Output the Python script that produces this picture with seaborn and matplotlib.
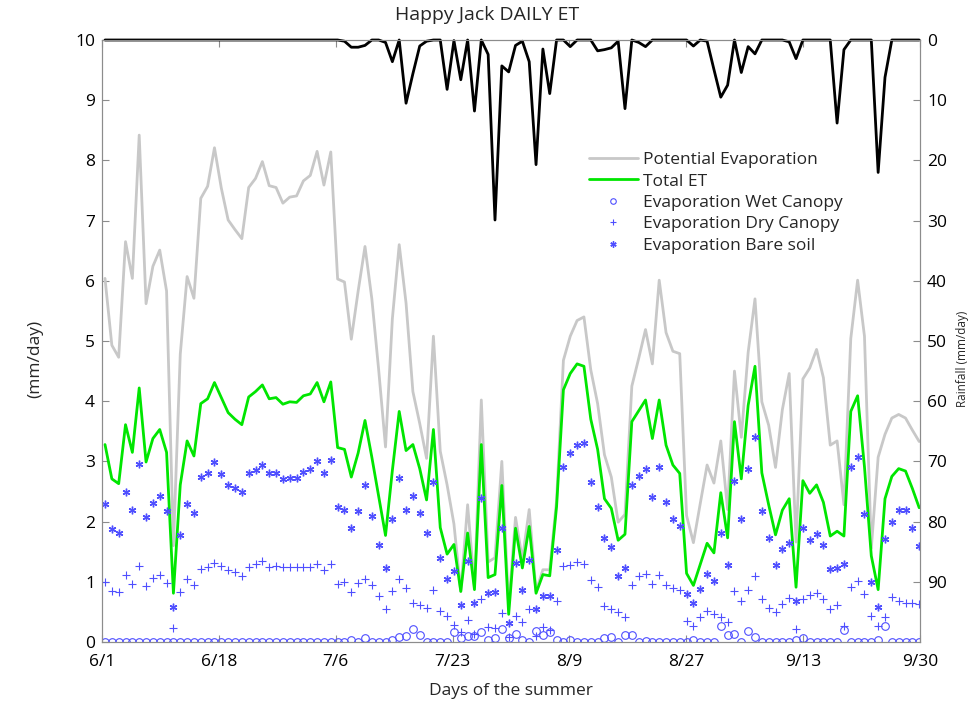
import numpy as np
import pandas as pd
import matplotlib
matplotlib.use("Agg")
import matplotlib.pyplot as plt
from matplotlib.lines import Line2D
import seaborn as sns

# ---------------- data ----------------
tick_labels = ["6/1", "6/18", "7/6", "7/23", "8/9", "8/27", "9/13", "9/30"]

pet = [6.04, 4.93, 4.73, 6.65, 6.04, 8.42, 5.62, 6.24, 6.51, 5.83,
       1.60, 4.78, 6.07, 5.71, 7.37, 7.57, 8.21, 7.54, 7.01, 6.85,
       6.70, 7.55, 7.70, 7.98, 7.58, 7.55, 7.29, 7.39, 7.41, 7.66,
       7.75, 8.15, 7.59, 8.14, 6.03, 5.98, 5.03, 5.83, 6.57, 5.70,
       4.52, 3.24, 5.37, 6.60, 5.63, 4.16, 3.63, 3.05, 5.08, 3.17,
       2.61, 1.96, 0.84, 2.28, 0.91, 4.02, 1.33, 1.40, 3.00, 0.58,
       2.07, 1.37, 2.20, 0.84, 1.20, 1.20, 2.35, 4.68, 5.08, 5.34,
       5.40, 4.52, 3.96, 3.11, 2.74, 1.99, 2.12, 4.25, 4.71, 5.19,
       4.62, 6.01, 5.14, 4.83, 4.79, 2.10, 1.65, 2.30, 2.94, 2.64,
       3.34, 2.20, 4.50, 3.40, 4.81, 5.70, 3.99, 3.60, 2.90, 3.86,
       4.46, 1.66, 4.37, 4.55, 4.86, 4.39, 3.27, 3.34, 2.28, 5.04,
       6.01, 5.08, 1.56, 3.07, 3.45, 3.72, 3.78, 3.72, 3.52, 3.33]

total_et = [3.28, 2.71, 2.63, 3.61, 3.15, 4.22, 2.99, 3.38, 3.53, 3.15,
            0.81, 2.61, 3.34, 3.09, 3.96, 4.04, 4.31, 4.06, 3.81, 3.70,
            3.61, 4.07, 4.16, 4.27, 4.04, 4.06, 3.95, 3.99, 3.98, 4.09,
            4.12, 4.31, 3.99, 4.32, 3.23, 3.20, 2.74, 3.14, 3.68, 3.07,
            2.42, 1.77, 2.85, 3.83, 3.18, 3.28, 2.88, 2.36, 3.53, 1.90,
            1.46, 1.62, 0.84, 1.81, 0.87, 3.28, 1.07, 1.12, 2.60, 0.46,
            1.89, 1.23, 1.92, 0.81, 1.12, 1.10, 2.25, 4.19, 4.46, 4.62,
            4.58, 3.70, 3.20, 2.38, 2.22, 1.69, 1.79, 3.66, 3.84, 4.02,
            3.38, 4.02, 3.27, 2.94, 2.80, 1.14, 0.94, 1.29, 1.64, 1.48,
            2.48, 1.73, 3.66, 2.71, 3.93, 4.58, 2.81, 2.28, 1.78, 2.19,
            2.38, 0.91, 2.68, 2.47, 2.61, 2.32, 1.76, 1.84, 1.76, 3.83,
            4.09, 2.91, 1.43, 0.87, 2.38, 2.75, 2.88, 2.84, 2.55, 2.23]

wet_canopy = [0, 0, 0, 0, 0, 0, 0, 0, 0, 0,
              0, 0, 0, 0, 0, 0, 0, 0, 0, 0,
              0, 0, 0, 0, 0, 0, 0, 0, 0, 0,
              0, 0, 0, 0, 0, 0, 0.04, 0, 0.07, 0,
              0, 0, 0.03, 0.08, 0.10, 0.22, 0.12, 0, 0, 0,
              0, 0.16, 0.07, 0.10, 0.10, 0.16, 0.03, 0.07, 0.22, 0.07,
              0.14, 0.03, 0, 0.18, 0.12, 0.16, 0.04, 0, 0.04, 0,
              0, 0, 0, 0.06, 0.09, 0, 0.12, 0.12, 0, 0.02,
              0, 0, 0, 0, 0, 0, 0.04, 0, 0, 0,
              0.26, 0.12, 0.14, 0, 0.19, 0.08, 0, 0, 0, 0,
              0, 0.03, 0.07, 0, 0, 0, 0, 0, 0.20, 0,
              0, 0, 0, 0.03, 0.26, 0, 0, 0, 0, 0]

dry_canopy = [1.00, 0.85, 0.83, 1.12, 0.96, 1.27, 0.93, 1.07, 1.12, 0.98,
              0.24, 0.83, 1.04, 0.94, 1.21, 1.25, 1.31, 1.27, 1.19, 1.16,
              1.10, 1.25, 1.29, 1.35, 1.25, 1.27, 1.25, 1.25, 1.25, 1.25,
              1.25, 1.30, 1.20, 1.30, 0.97, 0.99, 0.83, 0.98, 1.04, 0.95,
              0.77, 0.55, 0.85, 1.04, 0.90, 0.64, 0.61, 0.57, 0.87, 0.52,
              0.44, 0.29, 0.16, 0.36, 0.14, 0.72, 0.25, 0.24, 0.49, 0.08,
              0.44, 0.33, 0.55, 0.10, 0.25, 0.20, 0.68, 1.27, 1.28, 1.33,
              1.29, 1.03, 0.92, 0.60, 0.55, 0.50, 0.42, 0.94, 1.10, 1.13,
              0.97, 1.12, 0.95, 0.89, 0.86, 0.35, 0.27, 0.42, 0.52, 0.46,
              0.41, 0.34, 0.84, 0.68, 0.87, 1.10, 0.72, 0.56, 0.50, 0.63,
              0.73, 0.22, 0.71, 0.78, 0.82, 0.71, 0.54, 0.61, 0.26, 0.92,
              1.02, 0.79, 0.43, 0.26, 0.41, 0.75, 0.68, 0.64, 0.65, 0.63]

bare_soil = [2.30, 1.87, 1.81, 2.50, 2.20, 2.95, 2.07, 2.31, 2.43, 2.17,
             0.58, 1.78, 2.30, 2.15, 2.74, 2.80, 2.99, 2.79, 2.61, 2.56,
             2.50, 2.81, 2.86, 2.94, 2.80, 2.80, 2.70, 2.73, 2.73, 2.83,
             2.88, 3.01, 2.80, 3.03, 2.24, 2.20, 1.90, 2.17, 2.60, 2.09,
             1.61, 1.23, 2.04, 2.72, 2.20, 2.43, 2.15, 1.81, 2.66, 1.40,
             1.04, 1.18, 0.61, 1.35, 0.64, 2.40, 0.81, 0.83, 1.89, 0.32,
             1.31, 0.87, 1.37, 0.54, 0.76, 0.76, 1.53, 2.91, 3.14, 3.28,
             3.30, 2.66, 2.24, 1.73, 1.58, 1.09, 1.23, 2.61, 2.76, 2.87,
             2.41, 2.91, 2.33, 2.04, 1.93, 0.79, 0.65, 0.88, 1.13, 1.01,
             1.81, 1.28, 2.68, 2.04, 2.87, 3.40, 2.17, 1.72, 1.28, 1.55,
             1.64, 0.68, 1.90, 1.69, 1.79, 1.61, 1.22, 1.23, 1.30, 2.91,
             3.07, 2.12, 1.00, 0.58, 1.71, 2.00, 2.20, 2.20, 1.90, 1.60]

rainfall = [0, 0, 0, 0, 0, 0, 0, 0, 0, 0,
            0, 0, 0, 0, 0, 0, 0, 0, 0, 0,
            0, 0, 0, 0, 0, 0, 0, 0, 0, 0,
            0, 0, 0, 0, 0, 0.2, 1.2, 1.2, 0.9, 0,
            0, 0.4, 3.6, 0, 10.5, 5.6, 1.0, 0.2, 0, 0,
            8.2, 0.1, 6.6, 0, 11.8, 0, 2.4, 29.9, 4.3, 5.3,
            0.9, 0.2, 3.6, 20.7, 1.5, 8.9, 0, 0, 1.1, 0,
            0, 0, 1.8, 1.6, 1.3, 0.2, 11.4, 0, 0.4, 1.1,
            0, 0, 0, 0, 0, 0, 1.0, 0, 0.2, 4.9,
            9.5, 7.5, 0, 5.4, 1.1, 2.3, 0, 0, 0, 0,
            0.3, 3.1, 0, 0, 0, 0, 0, 13.8, 1.6, 0,
            0, 0, 0, 22.0, 6.2, 0, 0, 0, 0, 0]

# ---------------- table ----------------
day = np.arange(len(pet))
df = pd.DataFrame({"day": day, "pet": pet, "et": total_et, "wet": wet_canopy,
                   "dry": dry_canopy, "bare": bare_soil, "rain": rainfall})

# ---------------- style ----------------
sns.set_theme(style="white")
plt.rcParams["font.family"] = ["Open Sans", "DejaVu Sans"]
plt.rcParams["axes.edgecolor"] = "#8c8c8c"
plt.rcParams["axes.linewidth"] = 0.8

C_PET = "#c8c8c8"
C_ET = "#00e600"
C_PT = "#4f4fff"
FS = 12.5
ASTER = (6, 2, 0)

fig = plt.figure(figsize=(9.74, 7.05), dpi=100)
fig.patch.set_facecolor("white")
ax = fig.add_axes([102 / 974, 1 - 642 / 705, (920 - 102) / 974, (642 - 40) / 705])

sns.lineplot(data=df, x="day", y="pet", ax=ax, color=C_PET, linewidth=2.0)
sns.lineplot(data=df, x="day", y="et", ax=ax, color=C_ET, linewidth=2.0)
sns.lineplot(data=df, x="day", y="wet", ax=ax, color=C_PT, linestyle="none",
             marker="o", markersize=5.5, markerfacecolor="none",
             markeredgecolor=C_PT, markeredgewidth=0.8)
sns.lineplot(data=df, x="day", y="dry", ax=ax, color=C_PT, linestyle="none",
             marker="+", markersize=6, markeredgecolor=C_PT, markeredgewidth=0.8)
sns.lineplot(data=df, x="day", y="bare", ax=ax, color=C_PT, linestyle="none",
             marker=ASTER, markersize=5.5, markeredgecolor=C_PT,
             markeredgewidth=1.0)

x0 = (102 - 105) / 6.85
x1 = len(pet) - 1 + (920 - 919.2) / 6.85
ax.set_xlim(x0, x1)
ax.set_ylim(0, 10)
ax.set_xticks(np.linspace(x0, x1, len(tick_labels)))
ax.set_xticklabels(tick_labels)
ax.set_yticks(np.arange(0, 11, 1))
ax.tick_params(axis="both", direction="in", length=5, width=0.8,
               colors="#8c8c8c", labelcolor="black", labelsize=FS,
               top=True, bottom=True, left=True, right=False)
ax.tick_params(axis="x", pad=9)
ax.tick_params(axis="y", pad=5)
ax.set_xlabel("Days of the summer", fontsize=FS, labelpad=9)
ax.set_ylabel("(mm/day)", fontsize=FS)
ax.yaxis.set_label_coords(-0.072, 0.47)
for s in ax.spines.values():
    s.set_color("#8c8c8c")

# ---------------- rainfall on the right axis ----------------
ax2 = ax.twinx()
sns.lineplot(data=df, x="day", y="rain", ax=ax2, color="black",
             linewidth=2.0, clip_on=False)
ax2.set_ylim(100, 0)
ax2.set_yticks(np.arange(0, 100, 10))
ax2.tick_params(axis="y", direction="in", length=5, width=0.8,
                colors="#8c8c8c", labelcolor="black", labelsize=FS, pad=5)
ax2.set_ylabel("Rainfall (mm/day)", fontsize=8.5)
ax2.yaxis.set_label_coords(1.044, 0.47)
ax2.set_xlim(x0, x1)
for s in ax2.spines.values():
    s.set_color("#8c8c8c")

fig.text(487 / 974, 1 - 15 / 705, "Happy Jack DAILY ET", ha="center",
         va="center", fontsize=14)

# ---------------- legend ----------------
handles = [
    Line2D([], [], color=C_PET, lw=2.0),
    Line2D([], [], color=C_ET, lw=2.0),
    Line2D([], [], color=C_PT, ls="none", marker="o", ms=4,
           mfc="none", mew=0.8),
    Line2D([], [], color=C_PT, ls="none", marker="+", ms=5, mew=0.8),
    Line2D([], [], color=C_PT, ls="none", marker=ASTER, ms=4.5, mew=1.0),
]
labels = ["Potential Evaporation", "Total ET", "Evaporation Wet Canopy",
          "Evaporation Dry Canopy", "Evaporation Bare soil"]
fig.legend(handles, labels, loc="upper left",
           bbox_to_anchor=(589 / 974, 1 - 152 / 705), frameon=False,
           fontsize=FS, handlelength=2.8, handletextpad=0.3,
           labelspacing=0.3, borderpad=0, borderaxespad=0)

fig.savefig("out.png", dpi=100, facecolor="white")
